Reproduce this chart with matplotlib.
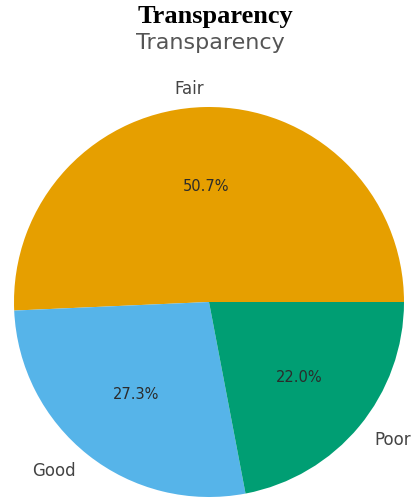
import matplotlib.pyplot as plt

# Transparency ratings
labels = ["Fair", "Good", "Poor"]
shares = [50.7, 27.3, 22.0]
colors = ["#E69F00", "#56B4E9", "#009E73"]

W, H = 412, 502
fig = plt.figure(figsize=(W / 100, H / 100), dpi=100)

# pie area in pixels: left, top, size
px_left, px_top, px_size = 14, 108, 390
ax = fig.add_axes([px_left / W, 1 - (px_top + px_size) / H, px_size / W, px_size / H])

wedges, texts, autotexts = ax.pie(
    shares, labels=labels, colors=colors, autopct="%1.1f%%",
    startangle=0, labeldistance=1.1, pctdistance=0.6,
    textprops={"fontsize": 12, "color": "#444444"},
)
for t in autotexts:
    t.set_fontsize(10.5)
    t.set_color("#2b2b2b")
ax.set_xlim(-1, 1)
ax.set_ylim(-1, 1)
ax.set_aspect("equal")

# page heading and chart title
fig.text(0.522, 1 - 17 / H, "Transparency", family="Liberation Serif",
         fontweight="bold", fontsize=19, ha="center", va="center", color="black")
fig.text(0.51, 1 - 43 / H, "Transparency", fontsize=16,
         ha="center", va="center", color="#555555")

fig.savefig("out.png", dpi=100)
